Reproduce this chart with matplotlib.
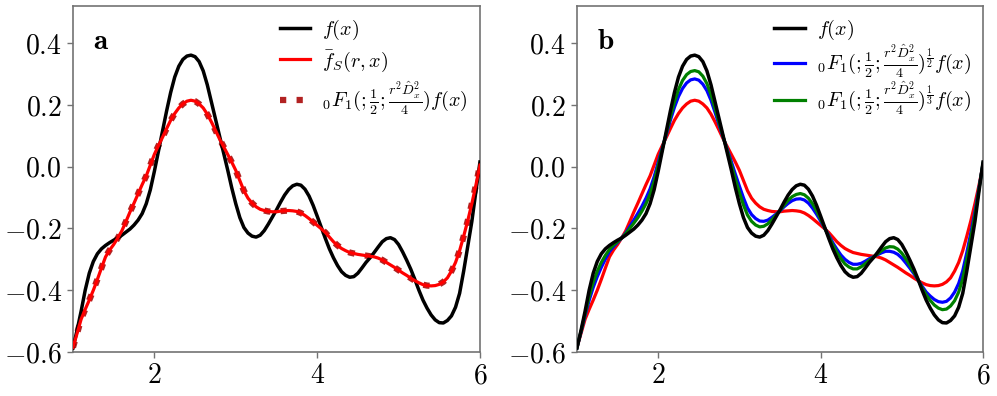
import matplotlib
matplotlib.use('Agg')
import matplotlib.pyplot as plt
from matplotlib.ticker import FixedLocator, FixedFormatter

plt.rcParams['mathtext.fontset'] = 'cm'
plt.rcParams['font.family'] = 'serif'
plt.rcParams['font.serif'] = ['cmr10', 'DejaVu Serif']
plt.rcParams['axes.formatter.use_mathtext'] = True

# sample positions (every 0.05)
x = [1.00 + 0.05 * i for i in range(101)]

f_x = [
    -0.587, -0.530, -0.468, -0.400, -0.345, -0.307, -0.282, -0.266, -0.255, -0.246,
    -0.238, -0.231, -0.222, -0.212, -0.202, -0.189, -0.173, -0.152, -0.120, -0.075,
    -0.015, 0.050, 0.115, 0.180, 0.240, 0.290, 0.325, 0.347, 0.358, 0.361,
    0.356, 0.340, 0.310, 0.265, 0.210, 0.155, 0.100, 0.045, -0.010, -0.068,
    -0.120, -0.165, -0.197, -0.215, -0.225, -0.228, -0.222, -0.207, -0.186, -0.163,
    -0.140, -0.115, -0.092, -0.074, -0.062, -0.057, -0.060, -0.073, -0.095, -0.125,
    -0.160, -0.196, -0.232, -0.266, -0.295, -0.320, -0.340, -0.352, -0.358, -0.356,
    -0.345, -0.328, -0.310, -0.295, -0.278, -0.260, -0.243, -0.233, -0.230, -0.236,
    -0.252, -0.276, -0.303, -0.332, -0.365, -0.400, -0.432, -0.458, -0.480, -0.496,
    -0.505, -0.506, -0.498, -0.483, -0.455, -0.410, -0.338, -0.258, -0.178, -0.080,
    0.015,
]

f_s = [
    -0.585, -0.540, -0.494, -0.462, -0.432, -0.400, -0.365, -0.328, -0.292, -0.270,
    -0.252, -0.231, -0.208, -0.178, -0.147, -0.118, -0.088, -0.058, -0.030, 0.005,
    0.040, 0.068, 0.095, 0.123, 0.150, 0.172, 0.190, 0.203, 0.212, 0.215,
    0.212, 0.203, 0.190, 0.170, 0.145, 0.118, 0.090, 0.065, 0.040, 0.015,
    -0.012, -0.045, -0.078, -0.102, -0.118, -0.130, -0.138, -0.142, -0.145, -0.146,
    -0.146, -0.144, -0.143, -0.142, -0.143, -0.145, -0.150, -0.158, -0.168, -0.179,
    -0.190, -0.201, -0.213, -0.228, -0.243, -0.255, -0.265, -0.272, -0.278, -0.281,
    -0.284, -0.286, -0.288, -0.290, -0.292, -0.296, -0.302, -0.310, -0.318, -0.326,
    -0.335, -0.344, -0.352, -0.361, -0.369, -0.376, -0.382, -0.385, -0.386, -0.385,
    -0.381, -0.373, -0.360, -0.338, -0.310, -0.272, -0.225, -0.175, -0.120, -0.060,
    0.005,
]

f_half = [
    -0.586, -0.535, -0.482, -0.433, -0.391, -0.356, -0.326, -0.299, -0.275, -0.259,
    -0.245, -0.231, -0.215, -0.194, -0.173, -0.151, -0.128, -0.102, -0.072, -0.033,
    0.014, 0.060, 0.104, 0.150, 0.192, 0.227, 0.253, 0.271, 0.281, 0.284,
    0.280, 0.267, 0.246, 0.215, 0.176, 0.135, 0.095, 0.056, 0.017, -0.024,
    -0.063, -0.101, -0.134, -0.155, -0.168, -0.176, -0.177, -0.173, -0.164, -0.154,
    -0.143, -0.130, -0.119, -0.110, -0.105, -0.104, -0.108, -0.118, -0.134, -0.154,
    -0.176, -0.199, -0.222, -0.246, -0.267, -0.286, -0.300, -0.310, -0.316, -0.316,
    -0.313, -0.306, -0.298, -0.292, -0.285, -0.279, -0.274, -0.274, -0.277, -0.284,
    -0.296, -0.312, -0.329, -0.347, -0.367, -0.387, -0.406, -0.419, -0.430, -0.437,
    -0.439, -0.436, -0.425, -0.406, -0.378, -0.337, -0.278, -0.214, -0.147, -0.069,
    0.010,
]

f_third = [
    -0.586, -0.533, -0.477, -0.421, -0.375, -0.339, -0.310, -0.287, -0.268, -0.254,
    -0.243, -0.231, -0.217, -0.200, -0.183, -0.165, -0.144, -0.120, -0.089, -0.048,
    0.004, 0.056, 0.108, 0.161, 0.209, 0.250, 0.279, 0.298, 0.308, 0.311,
    0.307, 0.293, 0.269, 0.233, 0.188, 0.142, 0.097, 0.052, 0.007, -0.040,
    -0.083, -0.124, -0.157, -0.177, -0.189, -0.195, -0.193, -0.185, -0.172, -0.157,
    -0.142, -0.125, -0.109, -0.097, -0.090, -0.087, -0.091, -0.102, -0.120, -0.143,
    -0.170, -0.198, -0.226, -0.253, -0.277, -0.298, -0.315, -0.325, -0.331, -0.331,
    -0.324, -0.314, -0.303, -0.293, -0.283, -0.272, -0.263, -0.259, -0.260, -0.267,
    -0.280, -0.299, -0.320, -0.342, -0.366, -0.392, -0.415, -0.433, -0.448, -0.458,
    -0.463, -0.461, -0.451, -0.434, -0.406, -0.363, -0.300, -0.230, -0.158, -0.073,
    0.012,
]

x_ticks = [2, 4, 6]
x_tick_labels = ['$2$', '$4$', '$6$']
y_ticks = [-0.6, -0.4, -0.2, 0.0, 0.2, 0.4]
y_tick_labels = ['$-0.6$', '$-0.4$', '$-0.2$', '$0.0$', '$0.2$', '$0.4$']

LBL_F = r'$f(x)$'
LBL_FS = r'$\bar{f}_S(r,x)$'
LBL_0F1 = r'${}_0F_1(;\frac{1}{2};\frac{r^2\hat{D}_x^2}{4})f(x)$'
LBL_HALF = r'${}_0F_1(;\frac{1}{2};\frac{r^2\hat{D}_x^2}{4})^{\frac{1}{2}}f(x)$'
LBL_THIRD = r'${}_0F_1(;\frac{1}{2};\frac{r^2\hat{D}_x^2}{4})^{\frac{1}{3}}f(x)$'

LW = 2.3


def style_axes(ax, tag, spacing):
    ax.set_xlim(1, 6)
    ax.set_ylim(-0.6, 0.52)
    ax.xaxis.set_major_locator(FixedLocator(x_ticks))
    ax.xaxis.set_major_formatter(FixedFormatter(x_tick_labels))
    ax.yaxis.set_major_locator(FixedLocator(y_ticks))
    ax.yaxis.set_major_formatter(FixedFormatter(y_tick_labels))
    ax.tick_params(direction='out', length=4, width=1, color='0.45',
                   labelsize=20, pad=4)
    for sp in ax.spines.values():
        sp.set_color('0.45')
        sp.set_linewidth(1.2)
    ax.text(0.05, 0.875, r'$\mathbf{%s}$' % tag, transform=ax.transAxes,
            fontsize=21, va='baseline')
    ax.legend(loc='upper right', frameon=False, fontsize=14.5,
              handlelength=1.5, handletextpad=0.6, borderaxespad=0.2,
              labelspacing=spacing)


fig = plt.figure(figsize=(9.97, 3.96), dpi=100)
ax_a = fig.add_axes([0.0732, 0.1111, 0.4082, 0.8737])
ax_b = fig.add_axes([0.5787, 0.1111, 0.4073, 0.8737])

# panel a
ax_a.plot(x, f_x, color='black', lw=2.5, label=LBL_F, zorder=3)
ax_a.plot(x, f_s, color='red', lw=LW, label=LBL_FS, zorder=4)
ax_a.plot(x, f_s, color='firebrick', lw=4.5, ls=':', label=LBL_0F1, zorder=2)
style_axes(ax_a, 'a', 0.3)

# panel b
ax_b.plot(x, f_x, color='black', lw=2.5, label=LBL_F, zorder=5)
ax_b.plot(x, f_half, color='blue', lw=LW, label=LBL_HALF, zorder=3)
ax_b.plot(x, f_third, color='green', lw=LW, label=LBL_THIRD, zorder=4)
ax_b.plot(x, f_s, color='red', lw=LW, zorder=2)
style_axes(ax_b, 'b', 0.0)

fig.savefig('out.png', dpi=100)
